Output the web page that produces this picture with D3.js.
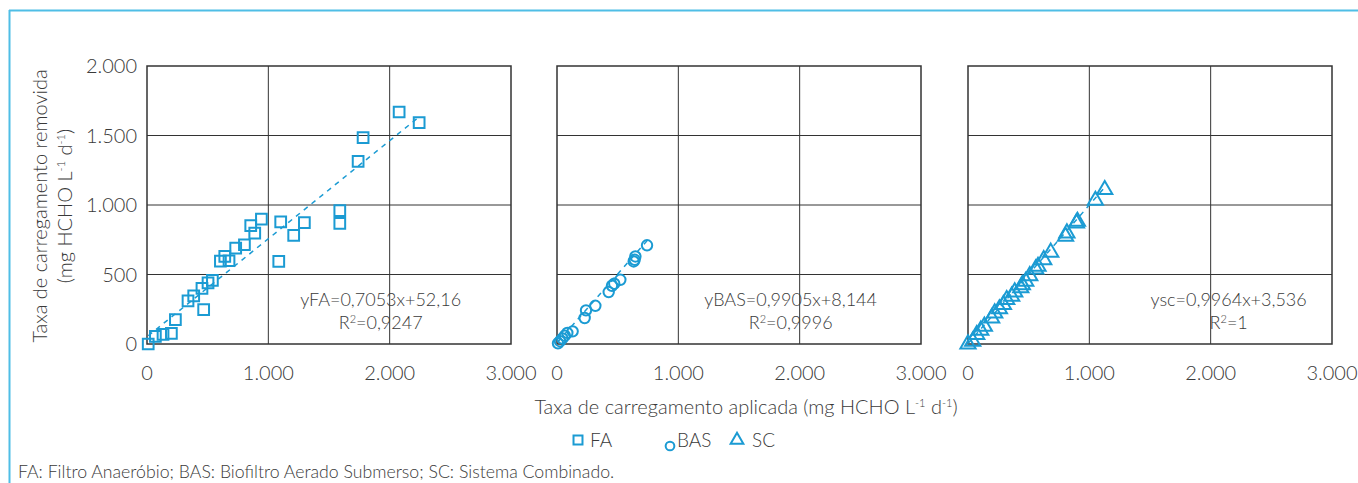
<!DOCTYPE html>
<html><head><meta charset="utf-8">
<script src="https://cdn.jsdelivr.net/npm/d3@7/dist/d3.min.js"></script>
<style>
body{margin:0;background:#fff}
text{font-family:Lato,"Open Sans",sans-serif;font-weight:300;fill:#3a3a3a}
</style>
</head><body>
<svg id="c" width="1358" height="483"></svg>
<script>
// ---------- data ----------
const xTickValues = [0, 1000, 2000, 3000];
const xTickLabels = ["0", "1.000", "2.000", "3.000"];
const yTickValues = [0, 500, 1000, 1500, 2000];
const yTickLabels = ["0", "500", "1.000", "1.500", "2.000"];

const seriesNames = ["FA", "BAS", "SC"];

const faX = [10, 69, 132, 201, 234, 467, 338, 385, 453, 503, 539, 605, 676, 641, 731, 803, 888, 855, 943, 1086, 1102, 1209, 1297, 1589, 1589, 1740, 1781, 2078, 2243];
const faY = [0, 55, 69, 76, 175, 247, 311, 347, 400, 439, 458, 597, 599, 630, 690, 714, 798, 851, 899, 594, 878, 781, 873, 959, 868, 1314, 1484, 1669, 1592];

const basX = [8, 25, 45, 65, 85, 129, 228, 239, 316, 426, 453, 472, 522, 632, 640, 646, 742];
const basY = [5, 20, 40, 60, 80, 91, 187, 242, 275, 374, 419, 434, 462, 594, 606, 630, 710];

const scX = [0, 39, 72, 105, 135, 195, 220, 259, 292, 319, 360, 385, 435, 448, 476, 509, 558, 577, 624, 682, 804, 815, 894, 902, 1050, 1127];
const scY = [0, 19, 67, 98, 127, 187, 223, 252, 283, 319, 343, 374, 403, 426, 450, 491, 539, 558, 606, 659, 774, 798, 870, 882, 1033, 1110];

const fitSlopes = [0.7053, 0.9905, 0.9964];
const fitIntercepts = [52.16, 8.144, 3.536];
const equationLabels = ["yFA=0,7053x+52,16", "yBAS=0,9905x+8,144", "ysc=0,9964x+3,536"];
const r2Values = ["0,9247", "0,9996", "1"];

const yTitleLine1 = "Taxa de carregamento removida";
const xTitle = "Taxa de carregamento aplicada (mg HCHO L";
const footnote = "FA: Filtro Anaeróbio; BAS: Biofiltro Aerado Submerso; SC: Sistema Combinado.";

// ---------- drawing ----------
const svg = d3.select("#c");
const blue = "#1b9bd3";
const frameBlue = "#4fbee6";
const gridColor = "#333";

svg.append("line").attr("x1", 9).attr("x2", 1358).attr("y1", 10.5).attr("y2", 10.5)
  .attr("stroke", frameBlue).attr("stroke-width", 2);
svg.append("line").attr("x1", 9.5).attr("x2", 9.5).attr("y1", 10).attr("y2", 483)
  .attr("stroke", frameBlue).attr("stroke-width", 2);

const panelLefts = [147, 557, 968];
const panelW = 364, pTop = 66, pBottom = 344;
const y = d3.scaleLinear().domain([0, 2000]).range([pBottom, pTop]);

const seriesX = [faX, basX, scX];
const seriesY = [faY, basY, scY];
const symbols = [d3.symbolSquare, d3.symbolCircle, d3.symbolTriangle];
const symSizes = [115, 85, 100];
const eqOffsets = [-9, -9, 18];

panelLefts.forEach((left, i) => {
  const x = d3.scaleLinear().domain([0, 3000]).range([left, left + panelW]);
  const g = svg.append("g");

  g.append("g").selectAll("line").data(xTickValues.slice(1, -1)).join("line")
    .attr("x1", d => x(d)).attr("x2", d => x(d)).attr("y1", pTop).attr("y2", pBottom)
    .attr("stroke", gridColor).attr("stroke-width", 1);
  g.append("g").selectAll("line").data(yTickValues.slice(1, -1)).join("line")
    .attr("y1", d => y(d)).attr("y2", d => y(d)).attr("x1", left).attr("x2", left + panelW)
    .attr("stroke", gridColor).attr("stroke-width", 1);
  g.append("rect").attr("x", left).attr("y", pTop).attr("width", panelW).attr("height", pBottom - pTop)
    .attr("fill", "none").attr("stroke", gridColor).attr("stroke-width", 1.5);

  g.append("g").selectAll("text").data(xTickValues).join("text")
    .attr("x", d => x(d)).attr("y", 380).attr("text-anchor", "middle")
    .style("font-size", "20px").text((d, k) => xTickLabels[k]);

  if (i === 0) {
    g.append("g").selectAll("text").data(yTickValues).join("text")
      .attr("x", left - 10).attr("y", d => y(d) + 7).attr("text-anchor", "end")
      .style("font-size", "20px").text((d, k) => yTickLabels[k]);
  }

  const xs = seriesX[i];
  const ext = d3.extent(xs);
  const lineData = ext.map(v => [v, fitSlopes[i] * v + fitIntercepts[i]]);
  g.append("path").datum(lineData)
    .attr("d", d3.line().x(d => x(d[0])).y(d => y(d[1])))
    .attr("fill", "none").attr("stroke", blue).attr("stroke-width", 1.5)
    .attr("stroke-dasharray", "5,5");

  const pts = xs.map((v, k) => [v, seriesY[i][k]]);
  g.append("g").selectAll("path").data(pts).join("path")
    .attr("transform", d => `translate(${x(d[0])},${y(d[1])})`)
    .attr("d", d3.symbol().type(symbols[i]).size(symSizes[i]))
    .attr("fill", "none").attr("stroke", blue).attr("stroke-width", 2);

  const cx = x(2000) + eqOffsets[i];
  g.append("text").attr("x", cx).attr("y", 306).attr("text-anchor", "middle")
    .style("font-size", "18px").text(equationLabels[i]);
  const r2 = g.append("text").attr("x", cx).attr("y", 329).attr("text-anchor", "middle")
    .style("font-size", "18px");
  r2.append("tspan").text("R");
  r2.append("tspan").attr("dy", -6).style("font-size", "11px").text("2");
  r2.append("tspan").attr("dy", 6).text("=" + r2Values[i]);
});

svg.append("text").attr("transform", "translate(47,206) rotate(-90)")
  .attr("text-anchor", "middle").style("font-size", "20px").text(yTitleLine1);
const yt2 = svg.append("text").attr("transform", "translate(72,206) rotate(-90)")
  .attr("text-anchor", "middle").style("font-size", "20px");
yt2.append("tspan").text("(mg HCHO L");
yt2.append("tspan").attr("dy", -7).style("font-size", "11px").text("-1");
yt2.append("tspan").attr("dy", 7).text(" d");
yt2.append("tspan").attr("dy", -7).style("font-size", "11px").text("-1");
yt2.append("tspan").attr("dy", 7).text(")");

const xt = svg.append("text").attr("x", 746).attr("y", 414).attr("text-anchor", "middle")
  .style("font-size", "20px");
xt.append("tspan").text(xTitle);
xt.append("tspan").attr("dy", -7).style("font-size", "11px").text("-1");
xt.append("tspan").attr("dy", 7).text(" d");
xt.append("tspan").attr("dy", -7).style("font-size", "11px").text("-1");
xt.append("tspan").attr("dy", 7).text(")");

const legX = [578, 670, 737];
const legDy = [0, 6, 0];
const legTextX = [590, 677, 752];
const legY = 440;
const lg = svg.append("g");
seriesNames.forEach((n, k) => {
  lg.append("path").attr("transform", `translate(${legX[k]},${legY + legDy[k]})`)
    .attr("d", d3.symbol().type(symbols[k]).size(symSizes[k] * 0.7))
    .attr("fill", "none").attr("stroke", blue).attr("stroke-width", 2);
  lg.append("text").attr("x", legTextX[k]).attr("y", legY + 7).style("font-size", "19px").text(n);
});

svg.append("text").attr("x", 18).attr("y", 478).style("font-size", "17.7px").text(footnote);
</script>
</body></html>
